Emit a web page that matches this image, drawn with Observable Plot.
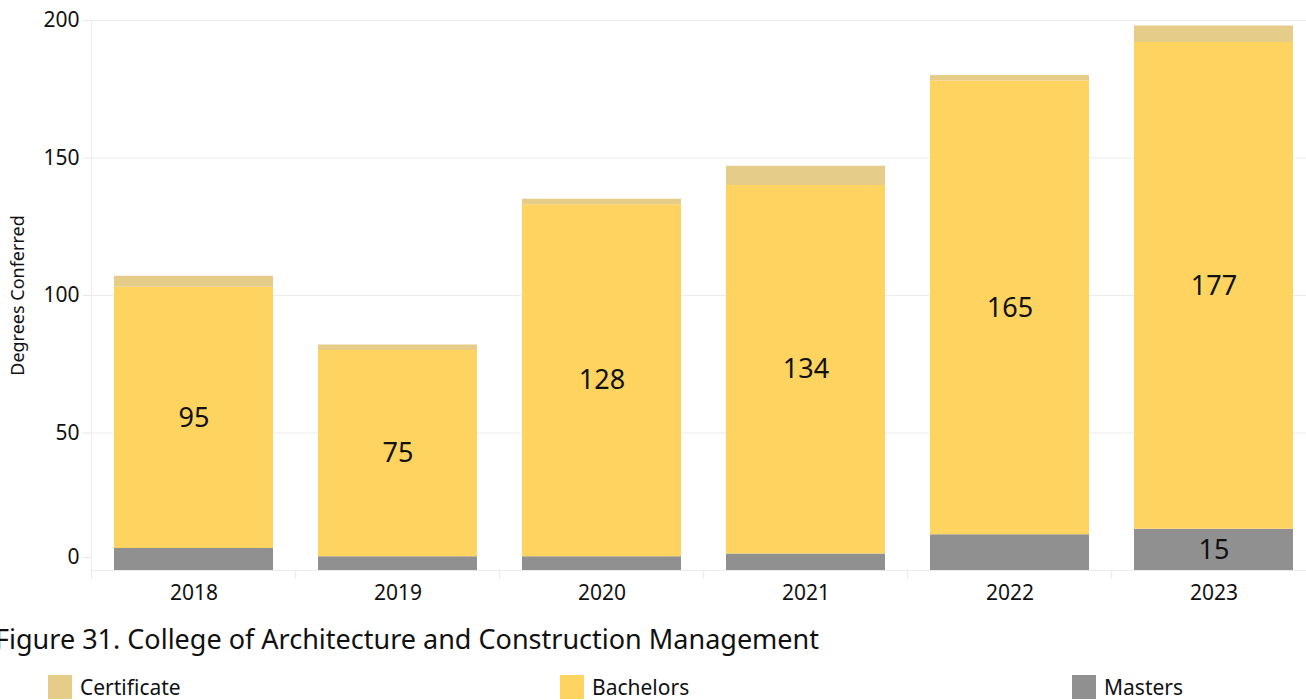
<!DOCTYPE html>
<html>
<head>
<meta charset="utf-8">
<script src="https://cdn.jsdelivr.net/npm/d3@7"></script>
<script src="https://cdn.jsdelivr.net/npm/@observablehq/plot@0.6"></script>
<style>
  html, body { margin: 0; padding: 0; background: #fff; overflow: hidden; width: 1306px; height: 700px; }
  #chart { position: absolute; left: 0; top: 0; }
  #title { position: absolute; left: -5px; top: 620px; font-family: "Noto Sans", sans-serif; font-size: 27px; color: #111; white-space: nowrap; }
  #legend { position: absolute; left: 0; top: 673px; width: 1306px; height: 26px; font-family: "Noto Sans", sans-serif; font-size: 21px; color: #111; }
  .item { position: absolute; top: 0; display: flex; align-items: center; white-space: nowrap; }
  .sw { width: 24px; height: 24px; margin-right: 8px; }
</style>
</head>
<body>
<div id="chart"></div>
<div id="title">Figure 31. College of Architecture and Construction Management</div>
<div id="legend"></div>
<script>
const years = ["2018", "2019", "2020", "2021", "2022", "2023"];
const masters = [8, 5, 5, 6, 13, 15];
const bachelors = [95, 75, 128, 134, 165, 177];
const certificate = [4, 2, 2, 7, 2, 6];
const types = ["Certificate", "Bachelors", "Masters"];
const colors = ["#e5cc89", "#fed35f", "#909090"];
const stackOrder = ["Masters", "Bachelors", "Certificate"];
const yTicks = [0, 50, 100, 150, 200];

const series = { Masters: masters, Bachelors: bachelors, Certificate: certificate };
const rows = [];
years.forEach((yr, i) => {
  for (const t of stackOrder) rows.push({ year: yr, type: t, value: series[t][i] });
});
const showLabel = d => d.type === "Bachelors" || (d.type === "Masters" && d.value >= 15);

const font = "Noto Sans, sans-serif";
const plot = Plot.plot({
  width: 1306,
  height: 612,
  marginLeft: 91,
  marginRight: -10,
  marginTop: 20,
  marginBottom: 42,
  style: { fontFamily: font, fontSize: "21px", color: "#111", background: "#fff" },
  x: { domain: years, paddingInner: 0.22, paddingOuter: 0.11, label: null },
  y: { domain: [0, 200], label: null },
  color: { domain: types, range: colors },
  marks: [
    Plot.gridY(yTicks, { stroke: "#ececec", strokeOpacity: 1 }),
    Plot.frame({ anchor: "left", stroke: "#ececec" }),
    Plot.axisY(yTicks.filter(v => v > 0), { tickSize: 8, tickPadding: 4, stroke: "#e8e8e8", fontSize: 21, label: null }),
    Plot.axisY([0], { tickSize: 8, tickPadding: 4, stroke: "#e8e8e8", fontSize: 21, dy: -13, label: null }),
    Plot.axisX({ tickSize: 0, tickPadding: 15, fontSize: 21, label: null }),
    Plot.ruleX(years, { x: d => d, dx: -102.3, y1: 0, y2: -3, stroke: "#e8e8e8" }),
    Plot.barY(rows, Plot.stackY({ x: "year", y: "value", z: "type", fill: "type", order: stackOrder })),
    Plot.text(rows, Plot.stackY({ x: "year", y: "value", z: "type", order: stackOrder, text: d => showLabel(d) ? String(d.value) : "", fontSize: 27, fill: "#111", fontFamily: font })),
    Plot.text(["Degrees Conferred"], { frameAnchor: "left", textAnchor: "middle", dx: -73, rotate: -90, fontSize: 18, fill: "#111", text: d => d })
  ]
});
document.getElementById("chart").appendChild(plot);

const legend = document.getElementById("legend");
const lefts = [48, 560, 1072];
types.forEach((t, i) => {
  const it = document.createElement("div");
  it.className = "item";
  it.style.left = lefts[i] + "px";
  it.innerHTML = `<div class="sw" style="background:${colors[i]}"></div><span>${t}</span>`;
  legend.appendChild(it);
});
</script>
</body>
</html>
